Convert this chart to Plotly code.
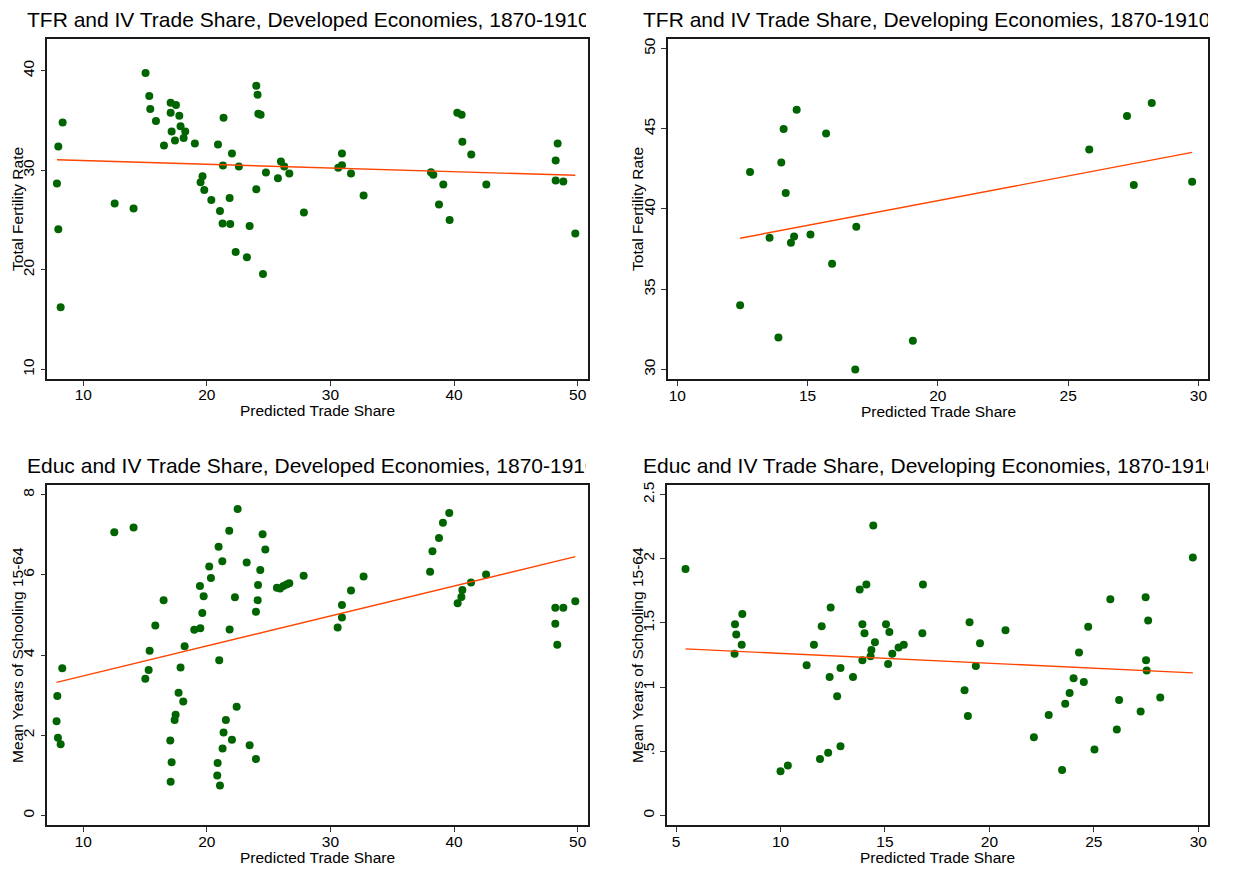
import numpy as np
import plotly.graph_objects as go

# ---------------- data ----------------
# Panel 1: TFR vs predicted trade share, developed economies
dev_tfr_x = [15.04, 15.34, 15.42, 15.88, 17.07, 17.50, 17.07, 17.77, 17.15, 17.87,
             18.25, 18.12, 17.42, 16.53, 19.03, 20.90, 21.35, 22.03, 21.30, 22.59,
             24.00, 24.10, 24.16, 24.35, 25.99, 26.26, 26.67, 24.78, 25.75, 19.65,
             19.49, 19.79, 20.36, 21.84, 21.06, 21.27, 21.89, 23.46, 24.00, 22.33,
             23.24, 24.54, 27.85, 12.54, 14.07, 7.98, 8.33, 7.87, 7.98, 8.17,
             30.93, 30.93, 30.63, 31.66, 32.68, 38.13, 38.32, 39.13, 38.78, 39.64,
             40.26, 40.61, 40.67, 41.39, 42.61, 48.38, 48.22, 48.22, 48.84, 49.81]
dev_tfr_y = [39.77, 37.46, 36.16, 34.96, 36.79, 36.56, 35.79, 35.49, 33.89, 34.42,
             33.89, 33.25, 32.99, 32.49, 32.69, 32.59, 35.29, 31.68, 30.48, 30.38,
             38.50, 37.60, 35.69, 35.59, 30.88, 30.38, 29.68, 29.78, 29.21, 29.41,
             28.81, 28.01, 27.01, 27.21, 25.91, 24.67, 24.60, 24.40, 28.11, 21.80,
             21.26, 19.59, 25.77, 26.67, 26.17, 32.38, 34.79, 28.68, 24.07, 16.25,
             31.68, 30.51, 30.25, 29.68, 27.47, 29.81, 29.55, 28.57, 26.57, 25.00,
             35.79, 35.59, 32.88, 31.58, 28.57, 32.68, 30.98, 28.98, 28.88, 23.66]

# Panel 2: TFR vs predicted trade share, developing economies
dvg_tfr_x = [14.58, 14.08, 15.71, 13.99, 12.79, 14.16, 13.54, 14.48, 14.36, 15.11,
             16.87, 15.94, 12.41, 13.88, 16.83, 19.04, 25.81, 27.26, 28.21, 27.52, 29.76]
dvg_tfr_y = [46.19, 44.99, 44.70, 42.90, 42.30, 40.99, 38.20, 38.28, 37.89, 38.41,
             38.90, 36.58, 34.00, 31.99, 30.00, 31.79, 43.71, 45.80, 46.61, 41.49, 41.70]

# Panel 3: education vs predicted trade share, developed economies
dev_edu_x = [12.51, 14.07, 7.90, 8.30, 7.84, 7.95, 8.17, 15.02, 15.29, 15.37,
             15.83, 16.50, 17.04, 17.15, 17.07, 17.39, 17.47, 17.71, 18.09, 17.87,
             18.20, 18.98, 19.47, 19.63, 19.74, 19.44, 20.33, 20.19, 20.95, 21.25,
             21.81, 22.49, 22.27, 21.84, 21.00, 22.41, 21.54, 21.35, 22.03, 21.27,
             20.87, 20.84, 21.06, 24.51, 24.73, 23.22, 24.32, 24.14, 24.11, 23.97,
             25.67, 25.92, 26.19, 26.45, 26.67, 27.83, 30.93, 30.93, 30.58, 31.66,
             32.68, 23.46, 23.97, 38.06, 38.25, 38.78, 39.10, 39.61, 40.29, 40.59,
             40.67, 41.37, 42.59, 48.19, 48.84, 49.81, 48.19, 48.35]
dev_edu_y = [7.06, 7.18, 2.98, 3.67, 2.35, 1.94, 1.78, 3.41, 3.63, 4.11,
             4.74, 5.37, 1.87, 1.33, 0.84, 2.38, 2.51, 3.06, 2.84, 3.69,
             4.22, 4.63, 4.67, 5.05, 5.47, 5.72, 5.92, 6.21, 6.70, 6.34,
             7.10, 7.64, 5.44, 4.64, 3.87, 2.71, 2.38, 2.07, 1.89, 1.67,
             1.31, 1.00, 0.75, 7.01, 6.63, 6.31, 6.12, 5.75, 5.37, 5.08,
             5.68, 5.66, 5.72, 5.76, 5.79, 5.98, 5.25, 4.94, 4.69, 5.61,
             5.96, 1.75, 1.41, 6.08, 6.59, 6.92, 7.30, 7.54, 5.29, 5.45,
             5.62, 5.81, 6.01, 5.18, 5.18, 5.34, 4.78, 4.26]

# Panel 4: education vs predicted trade share, developing economies
dvg_edu_x = [5.45, 8.17, 7.82, 7.88, 8.14, 7.80, 10.00, 10.35, 11.25, 11.60,
             11.97, 12.40, 12.35, 11.89, 12.28, 12.87, 12.71, 12.87, 13.47, 13.79,
             14.11, 14.44, 13.92, 14.02, 13.92, 14.31, 14.35, 14.52, 15.05, 15.21,
             15.15, 15.35, 15.65, 15.90, 16.82, 16.79, 18.81, 18.97, 19.05, 19.35,
             19.55, 20.77, 22.13, 22.84, 23.48, 23.63, 23.84, 24.03, 24.52, 24.29,
             24.73, 25.03, 25.79, 26.10, 26.21, 27.24, 27.48, 27.60, 27.50, 27.53,
             28.18, 29.74]
dvg_edu_y = [1.92, 1.57, 1.49, 1.41, 1.33, 1.26, 0.344, 0.39, 1.17, 1.33,
             1.475, 1.62, 1.08, 0.44, 0.49, 0.54, 0.93, 1.15, 1.08, 1.76,
             1.80, 2.26, 1.49, 1.42, 1.21, 1.24, 1.29, 1.35, 1.49, 1.43,
             1.18, 1.26, 1.31, 1.33, 1.80, 1.42, 0.976, 0.776, 1.506, 1.165,
             1.343, 1.444, 0.61, 0.784, 0.355, 0.87, 0.955, 1.07, 1.04, 1.27,
             1.47, 0.515, 1.685, 0.67, 0.90, 0.81, 1.70, 1.52, 1.21, 1.13,
             0.92, 2.01]

titles = ["TFR and IV Trade Share, Developed Economies, 1870-1910",
          "TFR and IV Trade Share, Developing Economies, 1870-1910",
          "Educ and IV Trade Share, Developed Economies, 1870-1910",
          "Educ and IV Trade Share, Developing Economies, 1870-1910"]
y_titles = ["Total Fertility Rate", "Total Fertility Rate",
            "Mean Years of Schooling 15-64", "Mean Years of Schooling 15-64"]
x_title = "Predicted Trade Share"

x_ticks = [[10, 20, 30, 40, 50], [10, 15, 20, 25, 30],
           [10, 20, 30, 40, 50], [5, 10, 15, 20, 25, 30]]
y_ticks = [[10, 20, 30, 40], [30, 35, 40, 45, 50],
           [0, 2, 4, 6, 8], [0, 0.5, 1, 1.5, 2, 2.5]]
y_ticktext = [["10", "20", "30", "40"], ["30", "35", "40", "45", "50"],
              ["0", "2", "4", "6", "8"], ["0", ".5", "1", "1.5", "2", "2.5"]]

# ---------------- layout ----------------
W, H = 1238, 869
x_ranges = [[7.09, 50.86], [9.63, 30.38], [7.09, 50.86], [4.55, 30.48]]
y_ranges = [[9.04, 43.2], [29.38, 50.62], [-0.24, 8.25], [-0.075, 2.578]]
# pixel boxes of the plot areas: (left, right, top, bottom)
boxes = [(47.3, 588.3, 36.0, 377.3), (667.7, 1208.3, 35.7, 377.7),
         (47.3, 588.3, 483.3, 825.0), (666.7, 1208.3, 483.3, 825.0)]

series = [(dev_tfr_x, dev_tfr_y), (dvg_tfr_x, dvg_tfr_y),
          (dev_edu_x, dev_edu_y), (dvg_edu_x, dvg_edu_y)]

FONT = "Arial, Liberation Sans, Helvetica, sans-serif"
GREEN = "#006400"
FITC = "#FF4500"

fig = go.Figure()
layout = dict(width=W, height=H, margin=dict(l=0, r=0, t=0, b=0),
              paper_bgcolor="white", plot_bgcolor="white", showlegend=False,
              font=dict(family=FONT, color="black"))
annotations = []

for i, ((xs, ys), box) in enumerate(zip(series, boxes)):
    k = "" if i == 0 else str(i + 1)
    xa, ya = "x" + k, "y" + k
    xarr = np.array(xs)
    yarr = np.array(ys)
    fig.add_trace(go.Scatter(x=xs, y=ys, mode="markers", xaxis=xa, yaxis=ya,
                             marker=dict(color=GREEN, size=8, line=dict(width=0))))
    slope, inter = np.polyfit(xarr, yarr, 1)
    lx = np.array([xarr.min(), xarr.max()])
    fig.add_trace(go.Scatter(x=lx, y=inter + slope * lx, mode="lines", xaxis=xa, yaxis=ya,
                             line=dict(color=FITC, width=1.4)))
    l, r, t, b = box
    axis_common = dict(showgrid=False, zeroline=False, showline=True, mirror=True,
                       linecolor="#1a1a1a", linewidth=1.6, ticks="outside", ticklen=5,
                       tickwidth=1, tickcolor="#333", tickfont=dict(size=15.5, family=FONT))
    layout["xaxis" + k] = dict(domain=[l / W, r / W], range=x_ranges[i], anchor=ya,
                               tickvals=x_ticks[i], ticklabelstandoff=-4, **axis_common)
    layout["yaxis" + k] = dict(domain=[1 - b / H, 1 - t / H], range=y_ranges[i], anchor=xa,
                               tickvals=y_ticks[i], ticktext=y_ticktext[i], tickangle=-90,
                               **axis_common)
    # panel title, clipped at the panel's right edge
    tx = 26 if i % 2 == 0 else 642
    ty = 16.5 if i < 2 else 464.5
    annotations.append(dict(text=titles[i], xref="paper", yref="paper",
                            x=tx / W, y=1 - ty / H, xanchor="left", yanchor="middle",
                            showarrow=False, align="left",
                            width=(585 - tx) if i % 2 == 0 else (1207 - tx),
                            borderpad=0, font=dict(size=21, family=FONT)))
    # x-axis title
    annotations.append(dict(text=x_title, xref="paper", yref="paper",
                            x=(l + r) / 2 / W, y=1 - (b + 32) / H, xanchor="center",
                            yanchor="middle", showarrow=False, font=dict(size=15.5, family=FONT)))
    # y-axis title
    yx = 18 if i % 2 == 0 else 638
    annotations.append(dict(text=y_titles[i], xref="paper", yref="paper",
                            x=yx / W, y=1 - (t + b) / 2 / H, xanchor="center",
                            yanchor="middle", textangle=-90, showarrow=False,
                            font=dict(size=15.5, family=FONT)))

layout["annotations"] = annotations
fig.update_layout(**layout)
fig.write_html("out.html")
